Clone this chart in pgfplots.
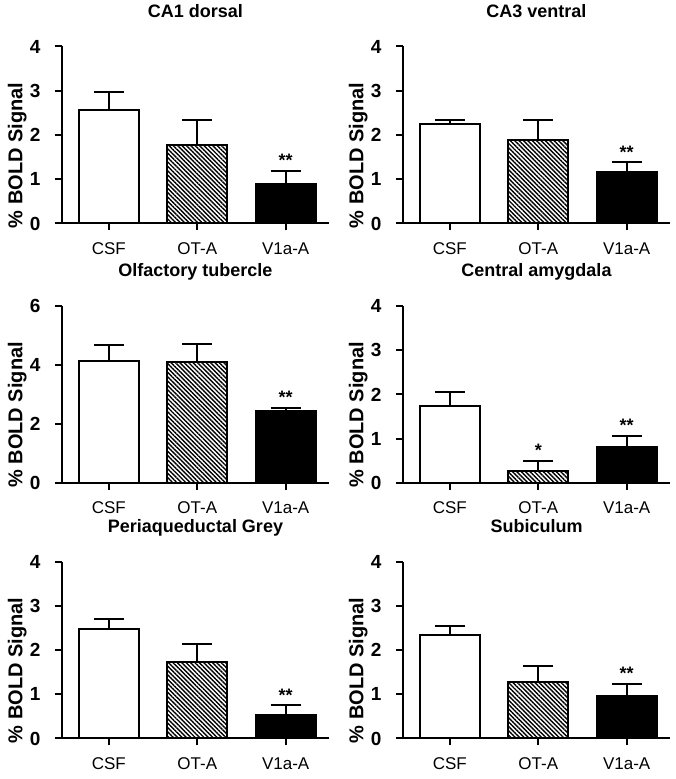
\documentclass[border=0pt]{standalone}
\usepackage{fontspec}
\setmainfont{Liberation Sans}
\usepackage{pgfplots}
\pgfplotsset{compat=1.18}
\usetikzlibrary{patterns.meta}
\pgfplotsset{
  panel/.style={
    scale only axis, width=267pt, height=177pt, anchor=south west,
    xmin=-0.53, xmax=2.49, ymin=0,
    clip=false,
    axis x line*=bottom, axis y line*=left,
    axis line style={line width=2pt, -},
    every tick/.style={line width=2pt, black},
    major tick length=7pt, tick align=outside,
    xtick={0,1,2}, xticklabels={CSF,OT-A,V1a-A},
    /pgf/number format/assume math mode=true,
    yticklabel style={font=\fontsize{19}{21}\selectfont\bfseries, anchor=east, xshift=-11pt},
    xticklabel style={font=\fontsize{17}{19}\selectfont, anchor=base, yshift=-24pt},
    ylabel={\% BOLD Signal},
    ylabel style={font=\fontsize{20}{22}\selectfont\bfseries, at={(axis description cs:-0.168,0.385)}, anchor=center},
    title style={font=\fontsize{18}{20}\selectfont\bfseries, at={(axis description cs:0.5,1)}, anchor=base, yshift=23pt},
  },
  bb/.style={ybar, bar width=60pt, bar shift=0pt, draw=black, line width=2pt,
    error bars/y dir=plus, error bars/y explicit,
    error bars/error bar style={line width=2pt, black},
    error bars/error mark options={rotate=90, line width=2pt, black, mark size=15pt}},
  csf/.style={bb, fill=white},
  ota/.style={bb, pattern={Lines[angle=-45, distance=3.1pt, line width=1.4pt]}, pattern color=black},
  via/.style={bb, fill=black},
}
\tikzset{star/.style={font=\fontsize{18}{20}\selectfont\bfseries, anchor=south, inner sep=0pt, yshift=4pt}}
\begin{document}
\begin{tikzpicture}[x=1pt,y=1pt]
\useasboundingbox (0,0) rectangle (675,779);
% CA1 dorsal
\begin{axis}[panel, at={(62pt,555.5pt)}, ymax=4, ytick={0,1,2,3,4}, title={CA1 dorsal}]
\addplot[csf] coordinates {(0,2.56) +- (0,0.42)};
\addplot[ota] coordinates {(1,1.77) +- (0,0.58)};
\addplot[via] coordinates {(2,0.90) +- (0,0.29)};
\node[star] at (axis cs:2,1.19) {**};
\end{axis}
% CA3 ventral
\begin{axis}[panel, at={(403pt,555.5pt)}, ymax=4, ytick={0,1,2,3,4}, title={CA3 ventral}]
\addplot[csf] coordinates {(0,2.24) +- (0,0.11)};
\addplot[ota] coordinates {(1,1.88) +- (0,0.45)};
\addplot[via] coordinates {(2,1.16) +- (0,0.22)};
\node[star] at (axis cs:2,1.38) {**};
\end{axis}
% Olfactory tubercle
\begin{axis}[panel, at={(62pt,296pt)}, ymax=6, ytick={0,2,4,6}, title={Olfactory tubercle}]
\addplot[csf] coordinates {(0,4.12) +- (0,0.55)};
\addplot[ota] coordinates {(1,4.09) +- (0,0.62)};
\addplot[via] coordinates {(2,2.44) +- (0,0.11)};
\node[star] at (axis cs:2,2.55) {**};
\end{axis}
% Central amygdala
\begin{axis}[panel, at={(403pt,296pt)}, ymax=4, ytick={0,1,2,3,4}, title={Central amygdala}]
\addplot[csf] coordinates {(0,1.75) +- (0,0.30)};
\addplot[ota] coordinates {(1,0.26) +- (0,0.24)};
\addplot[via] coordinates {(2,0.81) +- (0,0.26)};
\node[star] at (axis cs:1,0.50) {*};
\node[star] at (axis cs:2,1.07) {**};
\end{axis}
% Periaqueductal Grey
\begin{axis}[panel, at={(62pt,40.5pt)}, ymax=4, ytick={0,1,2,3,4}, title={Periaqueductal Grey}]
\addplot[csf] coordinates {(0,2.48) +- (0,0.22)};
\addplot[ota] coordinates {(1,1.73) +- (0,0.41)};
\addplot[via] coordinates {(2,0.53) +- (0,0.22)};
\node[star] at (axis cs:2,0.75) {**};
\end{axis}
% Subiculum
\begin{axis}[panel, at={(403pt,40.5pt)}, ymax=4, ytick={0,1,2,3,4}, title={Subiculum}]
\addplot[csf] coordinates {(0,2.33) +- (0,0.21)};
\addplot[ota] coordinates {(1,1.28) +- (0,0.36)};
\addplot[via] coordinates {(2,0.95) +- (0,0.29)};
\node[star] at (axis cs:2,1.24) {**};
\end{axis}
\end{tikzpicture}
\end{document}
